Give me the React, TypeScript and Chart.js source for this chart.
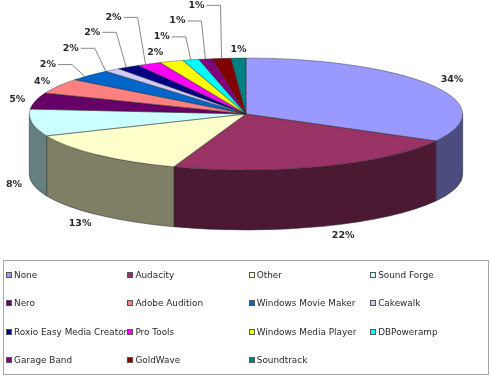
import React, { useEffect, useRef } from "react";
import { Chart, registerables } from "chart.js";

Chart.register(...registerables);

const categories = ["None", "Audacity", "Other", "Sound Forge", "Nero", "Adobe Audition", "Windows Movie Maker", "Cakewalk", "Roxio Easy Media Creator", "Pro Tools", "Windows Media Player", "DBPoweramp", "Garage Band", "GoldWave", "Soundtrack"];
const shares = [33.0, 22.4, 13.2, 7.8, 4.7, 4.4, 3.3, 1.2, 1.7, 1.8, 1.8, 1.2, 1.0, 1.4, 1.1];
const percentLabels = ["34%", "22%", "13%", "8%", "5%", "4%", "2%", "2%", "2%", "2%", "2%", "1%", "1%", "1%", "1%"];
const topColors = ["#9999FF", "#993366", "#FFFFCC", "#CCFFFF", "#660066", "#FF8080", "#0066CC", "#CCCCFF", "#000080", "#FF00FF", "#FFFF00", "#00FFFF", "#800080", "#800000", "#008080"];
const sideColors = ["#4C4C7F", "#4C1933", "#7F7F66", "#667F7F", "#330033", "#7F4040", "#003366", "#66667F", "#000040", "#7F007F", "#7F7F00", "#007F7F", "#400040", "#400000", "#004040"];

// Layout of the tilted pie and of its labels
const CX = 246, CY = 114, RX = 216.7, RY = 56, DEPTH = 60;
// [position along the slice edge, dx, dy, has leader line]
const labelLayout: [number, number, number, boolean][] = [
  [0.5, 19.5, -5.5, false], [0.5, 20, 69.4, false], [0.5, -17.6, 69.2, false], [0.5, -18, 62, false],
  [0.5, -18, -1, false], [0.5, -16, -5, false],
  [0.35, -13, -12, true], [0, -11, -23, true], [0.4, -10, -35, true], [0.35, -8, -47, true],
  [0.5, -16, -8.5, false],
  [0.5, -5, -23, true], [0.5, -4, -38, true], [0.5, -1, -53, true],
  [0.5, 0, -9, false],
];

const EDGE = "rgba(40,40,40,0.65)";

const tiltPlugin = {
  id: "tilt",
  beforeDatasetsDraw(chart: any) {
    const ctx = chart.ctx;
    const arcs = chart.getDatasetMeta(0).data;
    ctx.save();
    arcs.forEach((arc: any, i: number) => {
      const a0 = Math.max(arc.startAngle, 0);
      const a1 = Math.min(arc.endAngle, Math.PI);
      if (a1 <= a0) return;
      ctx.beginPath();
      ctx.ellipse(CX, CY, RX, RY, 0, a0, a1);
      ctx.ellipse(CX, CY + DEPTH, RX, RY, 0, a1, a0, true);
      ctx.closePath();
      ctx.fillStyle = sideColors[i];
      ctx.fill();
      ctx.strokeStyle = EDGE;
      ctx.lineWidth = 0.8;
      ctx.stroke();
    });
    ctx.restore();
    const { x, y, outerRadius } = arcs[0];
    ctx.save();
    ctx.translate(CX, CY);
    ctx.scale(RX / outerRadius, RY / outerRadius);
    ctx.translate(-x, -y);
  },
  afterDatasetsDraw(chart: any) {
    const ctx = chart.ctx;
    ctx.restore();
    const arcs = chart.getDatasetMeta(0).data;
    ctx.save();
    ctx.strokeStyle = EDGE;
    ctx.lineWidth = 0.6;
    arcs.forEach((arc: any) => {
      ctx.beginPath();
      ctx.moveTo(CX, CY);
      ctx.ellipse(CX, CY, RX, RY, 0, arc.startAngle, arc.endAngle);
      ctx.closePath();
      ctx.stroke();
    });
    ctx.font = "bold 9.5px 'DejaVu Sans'";
    ctx.textAlign = "center";
    ctx.textBaseline = "middle";
    arcs.forEach((arc: any, i: number) => {
      const [t, dx, dy, leader] = labelLayout[i];
      const a = arc.startAngle + (arc.endAngle - arc.startAngle) * t;
      const ex = CX + RX * Math.cos(a);
      const ey = CY + RY * Math.sin(a);
      const lx = ex + dx;
      const ly = ey + dy;
      ctx.fillStyle = "#2a2a2a";
      if (leader) {
        ctx.beginPath();
        ctx.strokeStyle = "#888";
        ctx.lineWidth = 1;
        ctx.moveTo(lx - 14, ly);
        ctx.lineTo(lx, ly);
        ctx.lineTo(ex, ey);
        ctx.stroke();
        ctx.fillText(percentLabels[i], lx - 24, ly);
      } else {
        ctx.fillText(percentLabels[i], lx, ly);
      }
    });
    ctx.restore();
  },
};

export default function App() {
  const ref = useRef<HTMLCanvasElement>(null);
  useEffect(() => {
    const chart = new Chart(ref.current!, {
      type: "pie",
      data: {
        labels: categories,
        datasets: [{ data: shares, backgroundColor: topColors, borderWidth: 0 }],
      },
      options: {
        animation: false,
        responsive: false,
        plugins: { legend: { display: false }, tooltip: { enabled: false } },
      },
      plugins: [tiltPlugin],
    } as any);
    return () => chart.destroy();
  }, []);
  return (
    <div style={{ position: "absolute", left: 0, top: 0, width: 491, height: 376, background: "#fff" }}>
      <canvas ref={ref} width={491} height={376} style={{ display: "block" }} />
      <div
        style={{
          position: "absolute", left: 3, top: 260, width: 482, height: 113,
          border: "1.5px solid #A6A6A6", boxSizing: "content-box",
          display: "grid", gridTemplateColumns: "repeat(4, 121.4px)", gridTemplateRows: "repeat(4, 28.3px)",
          paddingLeft: 2, alignItems: "center",
          font: "8.9px 'DejaVu Sans'", color: "#2a2a2a",
        }}
      >
        {categories.map((name, i) => (
          <div key={name} style={{ display: "flex", alignItems: "center", whiteSpace: "nowrap" }}>
            <span style={{ width: 4, height: 4, border: "1px solid #555", background: topColors[i], marginRight: 2, flex: "none" }} />
            {name}
          </div>
        ))}
      </div>
    </div>
  );
}
